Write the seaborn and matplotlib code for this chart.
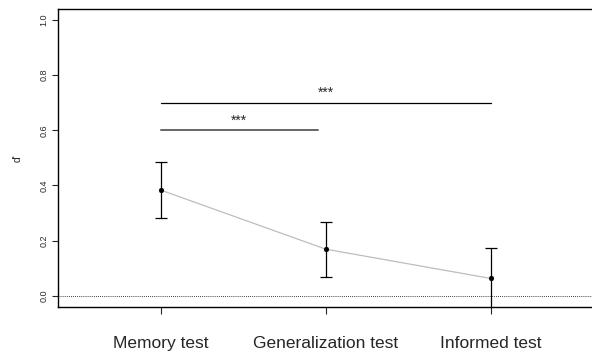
import numpy as np
import matplotlib
matplotlib.use("Agg")
import matplotlib.pyplot as plt
import seaborn as sns

# values
tests = ["Memory test", "Generalization test", "Informed test"]
dprime = [0.383, 0.169, 0.063]
err_low = [0.283, 0.069, -0.05]
err_high = [0.485, 0.266, 0.175]

# significance brackets: (x start, x end, height, label)
sig_start = [1.0, 1.0]
sig_end = [1.95, 3.0]
sig_y = [0.6, 0.7]
sig_label = ["***", "***"]
sig_color = ["#666666", "black"]
sig_lw = [1.4, 0.9]

sns.set_style("white")
plt.rcParams["font.family"] = ["Liberation Sans", "DejaVu Sans"]

pos = np.arange(1, len(tests) + 1)

fig = plt.figure(figsize=(5.92, 3.56), dpi=100)
ax = fig.add_axes([0.098, 0.138, 0.905, 0.837])

sns.lineplot(x=pos, y=dprime, ax=ax, color="#bdbdbd", linewidth=0.9)
ax.errorbar(pos, dprime,
            yerr=[np.array(dprime) - np.array(err_low), np.array(err_high) - np.array(dprime)],
            fmt="none", ecolor="black", elinewidth=0.9, capsize=4, capthick=0.9)
sns.scatterplot(x=pos, y=dprime, ax=ax, color="black", s=12, edgecolor="black", zorder=5)

ax.axhline(0, color="black", linestyle=(0, (1, 1.5)), linewidth=0.6)

for x0, x1, y, lab, c, lw in zip(sig_start, sig_end, sig_y, sig_label, sig_color, sig_lw):
    ax.plot([x0, x1], [y, y], color=c, linewidth=lw)
    ax.text((x0 + x1) / 2, y + 0.01, lab, ha="center", va="bottom", fontsize=10)

ax.set_xlim(0.375, 3.625)
ax.set_ylim(-0.04, 1.04)
ax.set_xticks(pos)
ax.set_xticklabels(tests, fontsize=12.5)
ax.set_yticks([0.0, 0.2, 0.4, 0.6, 0.8, 1.0])
ax.set_yticklabels(["0.0", "0.2", "0.4", "0.6", "0.8", "1.0"], rotation=90, va="center", fontsize=6.5)
ax.tick_params(axis="x", length=5, width=0.8, pad=16, direction="out", bottom=True)
ax.tick_params(axis="y", length=4, width=0.8, pad=3, direction="out", left=True)
ax.set_ylabel("d'", fontsize=7.5, labelpad=12)
for s in ax.spines.values():
    s.set_color("black")
    s.set_linewidth(1.0)

fig.savefig("out.png", dpi=100)
